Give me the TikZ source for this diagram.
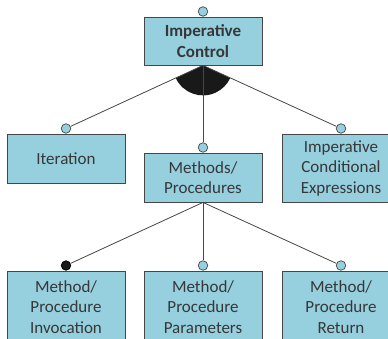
\documentclass[tikz,border=0pt]{standalone}
\usepackage{fontspec}
\setmainfont{Carlito}
\definecolor{boxfill}{RGB}{150,207,222}
\definecolor{boxline}{RGB}{70,70,70}
\definecolor{txt}{RGB}{55,55,55}
\begin{document}
\begin{tikzpicture}[x=1pt,y=1pt,
  feat/.style={draw=boxline,line width=0.8pt,fill=boxfill,text=txt,
    minimum width=118pt,align=center,inner sep=0pt,
    font=\fontsize{17}{20.5}\selectfont},
  opt/.style={circle,draw=boxline,line width=0.7pt,fill=boxfill,
    minimum size=9.5pt,inner sep=0pt},
  mand/.style={circle,draw=black,line width=0.7pt,fill=black!90,
    minimum size=9.5pt,inner sep=0pt},
  link/.style={draw=boxline,line width=0.8pt}]
\useasboundingbox (0,0) rectangle (388,338);
\clip (0,0) rectangle (388,338);

% feature boxes
\node[feat,minimum height=48pt,font=\fontsize{17}{20.5}\selectfont\bfseries]
  (ctrl) at (203,297) {Imperative\\Control};
\node[feat,minimum height=49pt] (iter) at (66,179.5) {Iteration};
\node[feat,minimum height=49pt] (meth) at (203,160.5) {Methods/\\Procedures};
\node[feat,minimum height=68pt] (cond) at (341,170) {Imperative\\Conditional\\Expressions};
\node[feat,minimum height=72pt] (inv) at (66,31) {Method/\\Procedure\\Invocation};
\node[feat,minimum height=72pt] (par) at (203,31) {Method/\\Procedure\\Parameters};
\node[feat,minimum height=72pt] (ret) at (341,31) {Method/\\Procedure\\Return};

% alternative group marker under the root
\fill[black!90] (ctrl.south) -- ++(205:30) arc[start angle=205,end angle=335,radius=30] -- cycle;

% connectors from the root
\node[opt,anchor=south] (cRoot) at (ctrl.north) {};
\node[opt,anchor=south] (cIter) at (iter.north) {};
\node[opt,anchor=south] (cMeth) at (meth.north) {};
\node[opt,anchor=south] (cCond) at (cond.north) {};
\draw[link] (ctrl.south) -- (cIter);
\draw[link] (ctrl.south) -- (cMeth);
\draw[link] (ctrl.south) -- (cCond);

% connectors from Methods/Procedures
\node[mand,anchor=south] (cInv) at (inv.north) {};
\node[opt,anchor=south] (cPar) at (par.north) {};
\node[opt,anchor=south] (cRet) at (ret.north) {};
\draw[link] (meth.south) -- (cInv);
\draw[link] (meth.south) -- (cPar);
\draw[link] (meth.south) -- (cRet);
\end{tikzpicture}
\end{document}
